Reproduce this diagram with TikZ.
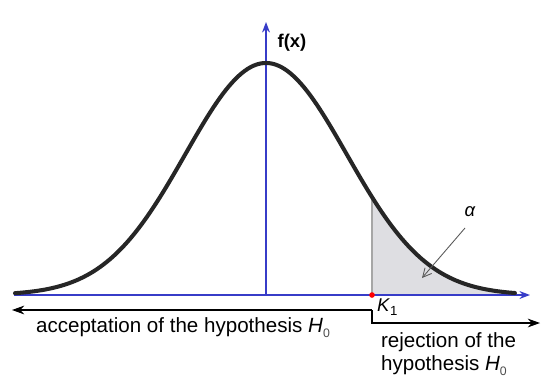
\documentclass[tikz,border=0pt]{standalone}
\usepackage{fontspec}
\setmainfont{Liberation Sans}
\usetikzlibrary{arrows.meta}
\definecolor{axisblue}{RGB}{55,60,200}
\definecolor{tailgray}{RGB}{222,222,226}
\begin{document}
\begin{tikzpicture}[font=\fontsize{11.7}{13.2}\selectfont]
% Normal density with the rejection tail beyond K1.
% 1px of the reference = 0.02cm, baseline at y=1.74, mean at x=5.32.
\useasboundingbox (0,0) rectangle (11,7.64);
\tikzset{
  axis/.style={axisblue,line width=0.8pt,-{Stealth[length=6pt,width=4.5pt]}},
  bell/.style={black!85,line width=2.3pt,line cap=round},
  region/.style={black,line width=0.6pt,-{Stealth[length=7pt,width=5pt]}},
  lab/.style={inner sep=1pt},
  callout/.style={black!65,line width=0.5pt,-{Straight Barb[length=5pt,width=5pt]}}
}
\newcommand{\Hnull}{\textit{H}\raisebox{-0.45ex}{\color{black!70}\fontsize{7}{8}\selectfont 0}}

% Key points.
\coordinate (xl) at (0.28,1.74);
\coordinate (xr) at (10.6,1.74);
\coordinate (o) at (5.32,1.74);
\coordinate (ytop) at (5.32,7.2);
\coordinate (k) at (7.44,1.74);
\coordinate (kcurve) at (7.44,{1.74+4.64*exp(-((7.44-5.32)^2)/(2*1.614^2))});
\coordinate (kl) at (7.44,1.44);
\coordinate (kll) at (7.44,1.18);
\coordinate (accend) at (0.24,1.44);
\coordinate (rejend) at (10.8,1.18);
\coordinate (tail) at (8.44,2.08);

% Tail area alpha.
\fill[tailgray] (k) -- plot[domain=7.44:10.3,samples=60]
  (\x,{1.74+4.64*exp(-((\x-5.32)^2)/(2*1.614^2))}) -- (10.3,1.74) -- cycle;
\draw[black!35,line width=0.7pt] (k) -- (kcurve);

% Axes.
\draw[axis] (xl) -- (xr);
\draw[axis] (o) -- (ytop);
\node[lab,font=\bfseries\fontsize{10.5}{12}\selectfont] (fx) at (5.84,6.78) {f(x)};

% Density curve.
\draw[bell] plot[domain=0.3:10.3,samples=160]
  (\x,{1.74+4.64*exp(-((\x-5.32)^2)/(2*1.614^2))});

% Critical value.
\fill[red] (k) circle (1.6pt);
\node[lab,anchor=west,font=\fontsize{10.5}{12}\selectfont] (klab) at (7.5,1.5) {\textit{K}\raisebox{-0.45ex}{\fontsize{7.5}{8}\selectfont 1}};

% Decision regions.
\draw[region] (kl) -- (accend);
\draw[region] (kl) -- (kll) -- (rejend);
\node[lab] (acc) at (3.66,1.08) {acceptation of the hypothesis \Hnull};
\node[lab,anchor=north west,align=left] (rej) at (7.58,1.03) {rejection of the\\hypothesis \Hnull};

% Alpha callout.
\node[lab,font=\fontsize{10.5}{12}\selectfont] (alab) at (9.4,3.4) {\textit{α}};
\coordinate (astart) at (9.3,3.08);
\draw[callout] (astart) -- (tail);
\end{tikzpicture}
\end{document}
